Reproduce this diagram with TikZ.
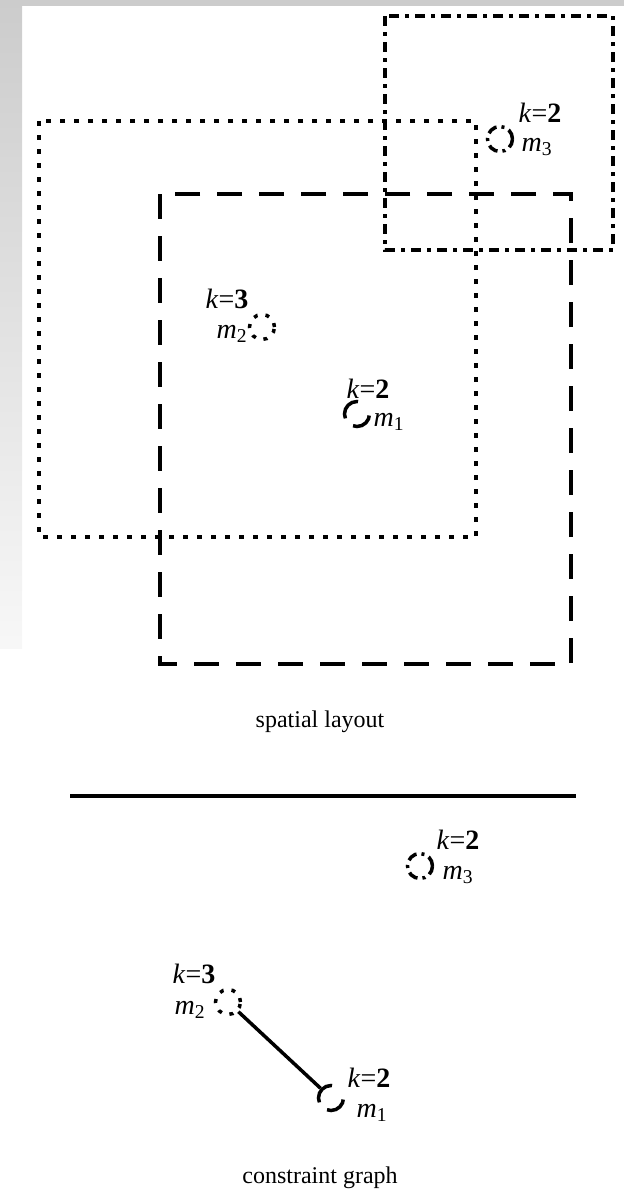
\documentclass[tikz,border=0pt]{standalone}
\usepackage{fontspec}
\setmainfont{Liberation Serif}
\usetikzlibrary{positioning}
\tikzset{
  frame/.style={line width=4.5pt, line cap=butt},
  dotbox/.style={frame, dash pattern=on 5pt off 9pt},
  dashbox/.style={frame, dash pattern=on 25pt off 17pt},
  dashdotbox/.style={frame, line width=4pt, dash pattern=on 10pt off 6pt on 4pt off 6pt},
  mod/.style={circle, draw, line width=3.5pt, minimum size=25pt, inner sep=0pt},
  moddash/.style={mod, dash pattern=on 25pt off 11pt on 22pt off 20.5pt, dash phase=60pt},
  moddot/.style={mod, dash pattern=on 4pt off 8pt},
  moddashdot/.style={mod, dash pattern=on 10pt off 5pt on 3pt off 5pt},
  lbl/.style={font=\fontsize{28}{28}\selectfont, inner sep=0pt},
  caption/.style={font=\fontsize{24}{28}\selectfont, inner sep=0pt},
  link/.style={line width=3.5pt},
}
\newcommand{\kval}[1]{\textit{k}=\textbf{#1}}
\newcommand{\mname}[1]{\textit{m}\textsubscript{#1}}

\begin{document}
\begin{tikzpicture}[x=1pt, y=-1pt]
  \useasboundingbox (0,0) rectangle (624,1197);
  % slide background
  \fill[black!20] (0,0) rectangle (624,6);
  \shade[top color=black!20, bottom color=black!3] (0,0) rectangle (22,648);

  % spatial layout
  \draw[dashdotbox] (385,16) rectangle (613,250);
  \draw[dotbox] (39,121) rectangle (476,537);
  \draw[dashbox] (160,194) rectangle (571,664);

  \node[moddashdot] (tm3) at (500,139) {};
  \node[lbl] (tk3) at (540,113) {\kval{2}};
  \node[lbl] (tn3) at (537,147) {\mname{3}};

  \node[moddot] (tm2) at (262,327) {};
  \node[lbl] (tk2) at (227,299) {\kval{3}};
  \node[lbl] (tn2) at (232,334) {\mname{2}};

  \node[moddash] (tm1) at (357,414) {};
  \node[lbl] (tk1) at (368,389) {\kval{2}};
  \node[lbl] (tn1) at (389,422) {\mname{1}};

  \node[caption] (spatial) at (320,722) {spatial layout};

  \draw[line width=4pt] (70,796) -- (576,796);

  % constraint graph
  \node[moddashdot] (gm3) at (420,866) {};
  \node[lbl] (gk3) at (458,840) {\kval{2}};
  \node[lbl] (gn3) at (458,875) {\mname{3}};

  \node[moddot] (gm2) at (228,1002) {};
  \node[lbl] (gk2) at (194,974) {\kval{3}};
  \node[lbl] (gn2) at (190,1010) {\mname{2}};

  \node[moddash] (gm1) at (331,1098) {};
  \node[lbl] (gk1) at (369,1078) {\kval{2}};
  \node[lbl] (gn1) at (372,1113) {\mname{1}};

  \draw[link] (gm2) -- (gm1);

  \node[caption] (cgraph) at (320,1178) {constraint graph};
\end{tikzpicture}
\end{document}
